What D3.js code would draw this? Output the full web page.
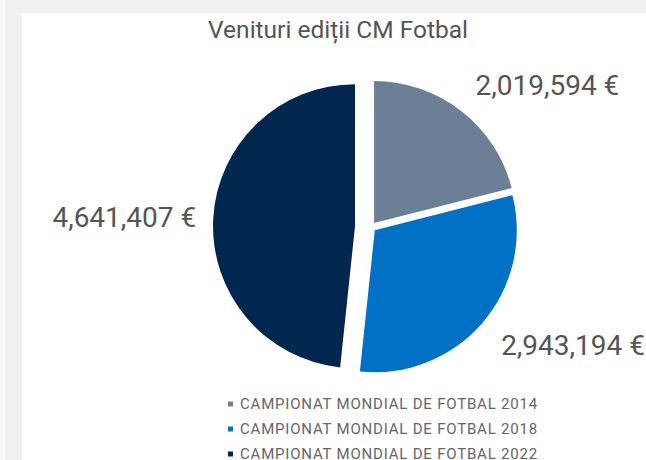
<!DOCTYPE html>
<html>
<head>
<meta charset="utf-8">
<script src="https://cdn.jsdelivr.net/npm/d3@7"></script>
<style>
  html, body { margin: 0; padding: 0; background: #eff0f2; }
  svg { display: block; font-family: Roboto, "Noto Sans", sans-serif; }
</style>
</head>
<body>
<svg id="chart"></svg>
<script>
const title = 'Venituri ediții CM Fotbal';
const categories = [
  'CAMPIONAT MONDIAL DE FOTBAL 2014',
  'CAMPIONAT MONDIAL DE FOTBAL 2018',
  'CAMPIONAT MONDIAL DE FOTBAL 2022'
];
const values = [2019594, 2943194, 4641407];
const colors = ['#6b8097', '#0071c5', '#02274e'];
const explode = [5, 5, 16];

const width = 646;
const height = 460;
const cx = 371, cy = 227, radius = 142;

const svg = d3.select('#chart').attr('width', width).attr('height', height);

// page background + card
svg.append('rect').attr('width', width).attr('height', height).attr('fill', '#eff0f2');
svg.append('rect').attr('width', 5).attr('height', height).attr('fill', '#f7f8f9');
svg.append('rect').attr('x', 22).attr('y', 13).attr('width', width).attr('height', height).attr('fill', '#fff');

svg.append('text')
  .attr('x', 338).attr('y', 38)
  .attr('text-anchor', 'middle')
  .attr('font-size', 24.5)
  .attr('fill', '#555')
  .text(title);

const pie = d3.pie().sort(null).value(d => d);
const arcs = pie(values);
const arc = d3.arc().innerRadius(0).outerRadius(radius);
const labelArc = d3.arc().innerRadius(180).outerRadius(180);
const fmt = d => d3.format(',')(d) + ' €';
const mid = d => (d.startAngle + d.endAngle) / 2;
const leftSide = d => mid(d) > Math.PI;

const g = svg.append('g').attr('transform', `translate(${cx},${cy})`);

g.selectAll('path.slice')
  .data(arcs)
  .enter()
  .append('path')
  .attr('class', 'slice')
  .attr('d', arc)
  .attr('fill', (d, i) => colors[i])
  .attr('transform', (d, i) => {
    const a = mid(d);
    return `translate(${Math.sin(a) * explode[i]},${-Math.cos(a) * explode[i]})`;
  });

g.selectAll('text.value')
  .data(arcs)
  .enter()
  .append('text')
  .attr('class', 'value')
  .attr('x', d => labelArc.centroid(d)[0] + (leftSide(d) ? 5 : -6))
  .attr('y', d => labelArc.centroid(d)[1])
  .attr('dy', '0.35em')
  .attr('text-anchor', d => leftSide(d) ? 'end' : 'start')
  .attr('font-size', 28)
  .attr('fill', '#555')
  .text(d => fmt(d.data));

// legend
const legend = svg.append('g').attr('transform', 'translate(228,404)');
const rows = legend.selectAll('g')
  .data(categories)
  .enter()
  .append('g')
  .attr('transform', (d, i) => `translate(0,${i * 25})`);

rows.append('rect')
  .attr('y', -2.5)
  .attr('width', 5).attr('height', 5)
  .attr('fill', (d, i) => colors[i]);

rows.append('text')
  .attr('x', 12)
  .attr('dy', '0.35em')
  .attr('font-size', 15)
  .attr('letter-spacing', 0.8)
  .attr('fill', '#666')
  .text(d => d);
</script>
</body>
</html>
